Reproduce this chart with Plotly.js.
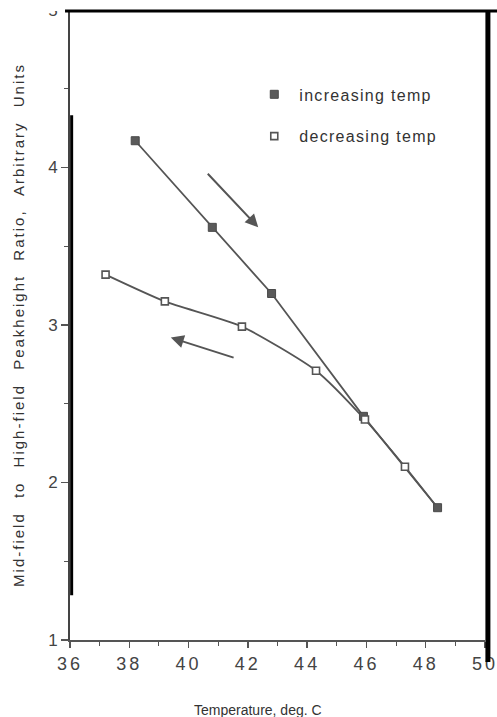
<!DOCTYPE html>
<html>
<head>
<meta charset="utf-8">
<script src="https://cdn.plot.ly/plotly-3.0.1.min.js"></script>
<style>
html,body{margin:0;padding:0;background:#fff;}
#chart{width:497px;height:717px;}
#chart g.xtick text{letter-spacing:3px;}
#chart g.g-ytitle text{letter-spacing:2px;word-spacing:8px;}
#chart .legendtext{letter-spacing:1.3px;}
#chart g.legend g.scrollbox, #chart g.legend{clip-path:none !important;}
</style>
</head>
<body>
<div id="chart"></div>
<script>
// Data
var incTemp = [38.2, 40.8, 42.8, 45.9, 48.4];
var incRatio = [4.17, 3.62, 3.20, 2.42, 1.84];
var decTemp = [48.4, 47.3, 45.95, 44.3, 41.8, 39.2, 37.2];
var decRatio = [1.84, 2.10, 2.40, 2.71, 2.99, 3.15, 3.32];
var xTicks = [36, 38, 40, 42, 44, 46, 48, 50];
var yTicks = [1, 2, 3, 4, 5];

var lineColor = '#555555';
var traces = [
  {x: incTemp, y: incRatio, mode: 'lines', line: {color: lineColor, width: 1.8}, showlegend: false, hoverinfo: 'skip'},
  {x: decTemp, y: decRatio, mode: 'lines', line: {color: lineColor, width: 1.8, shape: 'spline', smoothing: 0.6}, showlegend: false, hoverinfo: 'skip'},
  {x: incTemp, y: incRatio, mode: 'markers', name: 'increasing temp', legendgroup: 'a',
   marker: {symbol: 'square', size: 8, color: '#5a5a5a', line: {color: '#4a4a4a', width: 1}}},
  {x: decTemp.slice(1), y: decRatio.slice(1), mode: 'markers', name: 'decreasing temp', legendgroup: 'b',
   marker: {symbol: 'square', size: 7, color: '#ffffff', line: {color: '#555555', width: 1.6}}}
];

var layout = {
  width: 497, height: 717,
  margin: {l: 70, r: 12, t: 10, b: 77},
  paper_bgcolor: '#ffffff', plot_bgcolor: '#ffffff',
  font: {family: 'Liberation Sans, Arial, sans-serif', color: '#333333'},
  xaxis: {
    range: [36, 50], tickvals: xTicks, ticktext: xTicks.map(String),
    showgrid: false, zeroline: false, showline: true, linecolor: '#555', linewidth: 2,
    ticks: 'outside', ticklen: 6, tickwidth: 1.5, tickcolor: '#555',
    minor: {dtick: 1, ticks: 'outside', ticklen: 4, tickcolor: '#555', tickwidth: 1},
    tickfont: {size: 18, color: '#444'}
  },
  yaxis: {
    range: [1, 5], tickvals: yTicks, ticktext: yTicks.map(String),
    showgrid: false, zeroline: false, showline: true, linecolor: '#444', linewidth: 2,
    ticks: 'outside', ticklen: 7, tickwidth: 1.5, tickcolor: '#555',
    minor: {dtick: 0.5, ticks: 'outside', ticklen: 4, tickcolor: '#555', tickwidth: 1},
    tickfont: {size: 17, color: '#444'},
    title: {text: 'Mid-field to High-field Peakheight Ratio, Arbitrary Units', font: {size: 15, color: '#333'}, standoff: 20}
  },
  legend: {x: 0.432, y: 0.893, xanchor: 'left', yanchor: 'top', font: {size: 16, color: '#333'},
    bgcolor: 'rgba(0,0,0,0)', tracegroupgap: 18, itemwidth: 40},
  annotations: [
    {x: 42.35, y: 3.62, ax: 40.6, ay: 3.97, xref: 'x', yref: 'y', axref: 'x', ayref: 'y',
     showarrow: true, arrowhead: 2, arrowsize: 1.3, arrowwidth: 2, arrowcolor: '#555', text: ''},
    {x: 39.4, y: 2.92, ax: 41.57, ay: 2.79, xref: 'x', yref: 'y', axref: 'x', ayref: 'y',
     showarrow: true, arrowhead: 2, arrowsize: 1.3, arrowwidth: 2, arrowcolor: '#555', text: ''},
    {x: 0.453, y: -0.111, xref: 'paper', yref: 'paper', xanchor: 'center', yanchor: 'middle',
     showarrow: false, text: 'Temperature, deg. C', font: {size: 14, color: '#333'}, captureevents: false}
  ],
  shapes: [
    {type: 'rect', xref: 'paper', yref: 'paper', x0: -0.2, x1: 1.05, y0: 0.9985, y1: 1.03, fillcolor: '#ffffff', line: {width: 0}, layer: 'above'},
    {type: 'line', xref: 'paper', yref: 'paper', x0: -0.012, x1: 1.03, y0: 0.9985, y1: 0.9985, line: {color: '#000', width: 3}, layer: 'above'},
    {type: 'line', xref: 'paper', yref: 'paper', x0: 1.007, x1: 1.007, y0: -0.035, y1: 0.9985, line: {color: '#000', width: 5}, layer: 'above'},
    {type: 'line', xref: 'paper', yref: 'paper', x0: 0.004, x1: 0.004, y0: 0.071, y1: 0.833, line: {color: '#000', width: 3}, layer: 'above'}
  ]
};

Plotly.newPlot('chart', traces, layout, {displayModeBar: false, staticPlot: true});
</script>
</body>
</html>
